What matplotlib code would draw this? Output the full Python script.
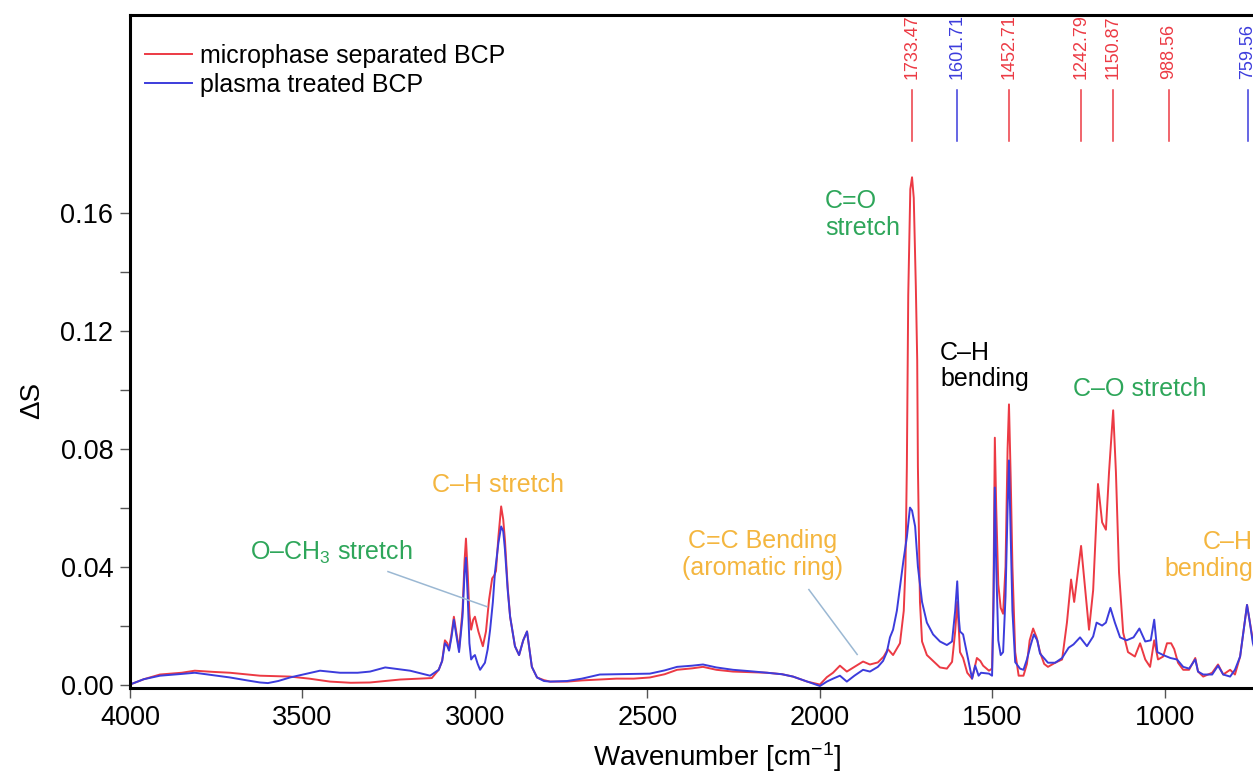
import numpy as np
import matplotlib
matplotlib.use("Agg")
import matplotlib.pyplot as plt

plt.rcParams['font.family'] = ['Liberation Sans', 'DejaVu Sans']
plt.rcParams['mathtext.fontset'] = 'custom'
plt.rcParams['mathtext.rm'] = 'Liberation Sans'
plt.rcParams['mathtext.it'] = 'Liberation Sans:italic'
plt.rcParams['mathtext.bf'] = 'Liberation Sans:bold'

# spectra (wavenumber in cm-1, delta S)
wn_red = [4000, 3960, 3913, 3850, 3812, 3760, 3710, 3623, 3536, 3480, 3420, 3360, 3304, 3260,
          3217, 3160, 3125, 3105, 3095, 3087, 3080, 3075, 3068, 3061, 3053, 3046, 3036, 3030,
          3026, 3021, 3016, 3011, 3005, 3000, 2990, 2977, 2968, 2959, 2950, 2944, 2939, 2932,
          2924, 2918, 2913, 2905, 2898, 2884, 2872, 2860, 2849, 2842, 2835, 2820, 2800, 2782,
          2733, 2690, 2638, 2590, 2540, 2493, 2450, 2414, 2370, 2339, 2300, 2252, 2200, 2153,
          2110, 2078, 2037, 2000, 1980, 1962, 1942, 1922, 1900, 1875, 1855, 1832, 1815, 1803,
          1788, 1768, 1757, 1752, 1748, 1744, 1738, 1733, 1728, 1722, 1718, 1716, 1710, 1704,
          1690, 1672, 1652, 1632, 1617, 1608, 1602, 1597, 1594, 1585, 1573, 1559, 1545, 1535,
          1527, 1510, 1501, 1497, 1493, 1489, 1483, 1476, 1469, 1462, 1456, 1452, 1447, 1442,
          1434, 1424, 1410, 1400, 1392, 1382, 1372, 1362, 1350, 1339, 1318, 1298, 1284, 1272,
          1263, 1243, 1231, 1220, 1208, 1194, 1182, 1171, 1162, 1150, 1142, 1133, 1121, 1107,
          1087, 1072, 1057, 1043, 1031, 1020, 1005, 994, 982, 973, 962, 947, 930, 912, 904,
          889, 863, 846, 831, 811, 797, 782, 770, 762, 755, 745, 730, 700]
ds_red = [0.0, 0.0018, 0.0034, 0.004, 0.0047, 0.0043, 0.004, 0.003, 0.0027, 0.002, 0.001, 0.0006,
          0.0007, 0.0012, 0.0017, 0.002, 0.0022, 0.005, 0.008, 0.015, 0.014, 0.012, 0.017, 0.023,
          0.017, 0.012, 0.025, 0.042, 0.0495, 0.038, 0.024, 0.0186, 0.022, 0.023, 0.018, 0.013,
          0.018, 0.0288, 0.036, 0.037, 0.0385, 0.05, 0.0604, 0.056, 0.049, 0.033, 0.023, 0.013,
          0.01, 0.015, 0.018, 0.012, 0.006, 0.0024, 0.0015, 0.001, 0.001, 0.0014, 0.0017, 0.002,
          0.002, 0.0024, 0.0035, 0.005, 0.0055, 0.006, 0.005, 0.0044, 0.0042, 0.004, 0.0035,
          0.0027, 0.001, 0.0, 0.0025, 0.004, 0.0064, 0.0044, 0.006, 0.0078, 0.0068, 0.0075,
          0.0095, 0.012, 0.01, 0.014, 0.025, 0.04, 0.074, 0.132, 0.168, 0.172, 0.165, 0.135,
          0.11, 0.074, 0.028, 0.0146, 0.01, 0.008, 0.0058, 0.0054, 0.0077, 0.018, 0.028, 0.018,
          0.011, 0.009, 0.004, 0.002, 0.009, 0.008, 0.0064, 0.0047, 0.0054, 0.03, 0.0837, 0.06,
          0.034, 0.026, 0.024, 0.04, 0.08, 0.095, 0.07, 0.04, 0.011, 0.003, 0.003, 0.007, 0.015,
          0.019, 0.016, 0.011, 0.007, 0.006, 0.0074, 0.0085, 0.021, 0.0356, 0.028, 0.047, 0.032,
          0.0186, 0.032, 0.068, 0.055, 0.0525, 0.072, 0.093, 0.072, 0.038, 0.0176, 0.011, 0.0095,
          0.014, 0.0085, 0.006, 0.015, 0.0085, 0.0095, 0.014, 0.014, 0.012, 0.0074, 0.005, 0.005,
          0.009, 0.0044, 0.0027, 0.004, 0.0068, 0.0034, 0.005, 0.0034, 0.0095, 0.02, 0.027, 0.022,
          0.015, 0.008, 0.004]

wn_blue = [4000, 3960, 3913, 3850, 3812, 3760, 3710, 3660, 3623, 3600, 3570, 3536, 3490, 3449,
           3391, 3340, 3304, 3260, 3220, 3188, 3130, 3105, 3095, 3087, 3080, 3075, 3068, 3061,
           3053, 3046, 3036, 3030, 3026, 3021, 3016, 3011, 3005, 3000, 2992, 2985, 2971, 2963,
           2956, 2948, 2942, 2932, 2924, 2918, 2913, 2905, 2898, 2884, 2872, 2860, 2849, 2842,
           2835, 2820, 2800, 2782, 2733, 2690, 2638, 2590, 2540, 2493, 2450, 2414, 2370, 2339,
           2300, 2252, 2200, 2153, 2110, 2078, 2037, 2000, 1980, 1962, 1942, 1922, 1900, 1875,
           1855, 1832, 1817, 1806, 1797, 1788, 1777, 1768, 1758, 1748, 1739, 1733, 1724, 1716,
           1704, 1690, 1672, 1652, 1632, 1617, 1608, 1602, 1597, 1594, 1585, 1573, 1559, 1550,
           1540, 1533, 1510, 1501, 1497, 1493, 1489, 1483, 1476, 1469, 1462, 1456, 1452, 1447,
           1442, 1434, 1420, 1410, 1400, 1390, 1380, 1370, 1362, 1339, 1318, 1298, 1279, 1265,
           1246, 1226, 1208, 1198, 1182, 1171, 1158, 1145, 1130, 1111, 1091, 1074, 1057, 1041,
           1031, 1022, 1005, 984, 965, 947, 930, 912, 904, 889, 863, 846, 831, 811, 797, 782,
           770, 762, 755, 745, 730, 700]
ds_blue = [0.0, 0.0018, 0.003, 0.0036, 0.004, 0.0032, 0.0024, 0.0014, 0.0007, 0.0005, 0.0012,
           0.0024, 0.0036, 0.0047, 0.004, 0.004, 0.0044, 0.0058, 0.0052, 0.0047, 0.003, 0.005,
           0.008, 0.014, 0.013, 0.0115, 0.016, 0.022, 0.016, 0.011, 0.023, 0.038, 0.043, 0.03,
           0.014, 0.0085, 0.0095, 0.01, 0.007, 0.005, 0.0074, 0.012, 0.0186, 0.028, 0.038, 0.048,
           0.0536, 0.052, 0.0458, 0.032, 0.023, 0.013, 0.01, 0.015, 0.018, 0.012, 0.006, 0.0024,
           0.0012, 0.001, 0.0012, 0.002, 0.0034, 0.0035, 0.0036, 0.0037, 0.0048, 0.006, 0.0064,
           0.0068, 0.0058, 0.005, 0.0045, 0.004, 0.0035, 0.0027, 0.001, -0.0005, 0.001, 0.002,
           0.003, 0.001, 0.003, 0.005, 0.0044, 0.006, 0.008, 0.011, 0.016, 0.0186, 0.025, 0.033,
           0.042, 0.05, 0.06, 0.059, 0.0536, 0.04, 0.028, 0.021, 0.017, 0.0146, 0.0134, 0.0146,
           0.025, 0.035, 0.022, 0.018, 0.017, 0.01, 0.002, 0.0064, 0.003, 0.004, 0.0037, 0.003,
           0.025, 0.0668, 0.04, 0.015, 0.01, 0.011, 0.03, 0.06, 0.076, 0.05, 0.025, 0.0076, 0.0054,
           0.005, 0.0085, 0.013, 0.017, 0.015, 0.0105, 0.0074, 0.0074, 0.009, 0.0125, 0.0136,
           0.016, 0.013, 0.0163, 0.021, 0.02, 0.021, 0.026, 0.021, 0.016, 0.015, 0.016, 0.019,
           0.0146, 0.015, 0.022, 0.011, 0.01, 0.009, 0.0085, 0.006, 0.0054, 0.0085, 0.0044, 0.0034,
           0.0034, 0.0064, 0.0034, 0.0027, 0.005, 0.0095, 0.02, 0.027, 0.022, 0.014, 0.008, 0.004]

peak_pos = [1733.47, 1601.71, 1452.71, 1242.79, 1150.87, 988.56, 759.56]
peak_series = ['red', 'blue', 'red', 'red', 'red', 'red', 'blue']

red = '#EC3A44'
blue = '#3C3CDC'
green = '#2EA65A'
orange = '#F4B63F'
colors = {'red': red, 'blue': blue}

fig = plt.figure(figsize=(12.53, 7.74), dpi=100)
# axes run past the right edge, like the cropped original
ax = fig.add_axes([0.1037, 0.111, 0.9086, 0.8695])

ax.plot(wn_red, ds_red, color=red, lw=1.4, label='microphase separated BCP')
ax.plot(wn_blue, ds_blue, color=blue, lw=1.4, label='plasma treated BCP')

ax.set_xlim(4000, 700)
ax.set_ylim(-0.0012, 0.227)
ax.set_xticks([4000, 3500, 3000, 2500, 2000, 1500, 1000])
ax.set_yticks([0.0, 0.04, 0.08, 0.12, 0.16])
ax.set_yticks([0.02, 0.06, 0.10, 0.14], minor=True)
ax.yaxis.set_major_formatter(matplotlib.ticker.FormatStrFormatter('%.2f'))
ax.tick_params(which='both', direction='out', length=7, width=1, color='#555555',
               labelsize=19.5, pad=5)
for s in ['left', 'bottom', 'top']:
    ax.spines[s].set_linewidth(2.2)
ax.spines['right'].set_visible(False)

ax.set_xlabel('Wavenumber [cm$^{-1}$]', fontsize=20)
ax.set_ylabel('ΔS', fontsize=20)
ax.xaxis.set_label_coords(0.5156, -0.078)
ax.yaxis.set_label_coords(-0.0747, 0.428)

leg = ax.legend(loc='upper left', bbox_to_anchor=(0.0, 0.98), frameon=False, fontsize=18,
                handlelength=1.9, handletextpad=0.3, labelspacing=0.2, borderaxespad=0.2)

# peak markers on top
for p, sname in zip(peak_pos, peak_series):
    c = colors[sname]
    ax.plot([p, p], [0.1844, 0.2017], color=c, lw=1.1)
    ax.text(p, 0.2052, '%.2f' % p, rotation=90, ha='center', va='bottom', color=c, fontsize=13)

# band annotations
ax.text(3652, 0.0447, 'O–CH$_3$ stretch', color=green, fontsize=18, ha='left', va='center')
ax.plot([3252, 2965], [0.0383, 0.0264], color='#9BB8D3', lw=1.1)
ax.text(2933, 0.0678, 'C–H stretch', color=orange, fontsize=18, ha='center', va='center')
ax.text(2165, 0.0442, 'C=C Bending\n(aromatic ring)', color=orange, fontsize=18, ha='center',
        va='center', linespacing=1.15)
ax.plot([2032, 1892], [0.0322, 0.0102], color='#9BB8D3', lw=1.1)
ax.text(1985, 0.1595, 'C=O\nstretch', color=green, fontsize=18, ha='left', va='center',
        linespacing=1.15)
ax.text(1652, 0.108, 'C–H\nbending', color='black', fontsize=18, ha='left', va='center',
        linespacing=1.15)
ax.text(1266, 0.1003, 'C–O stretch', color=green, fontsize=18, ha='left', va='center')
ax.text(744, 0.0439, 'C–H\nbending', color=orange, fontsize=18, ha='right', va='center',
        linespacing=1.15, multialignment='right')

fig.savefig('out.png', dpi=100)
